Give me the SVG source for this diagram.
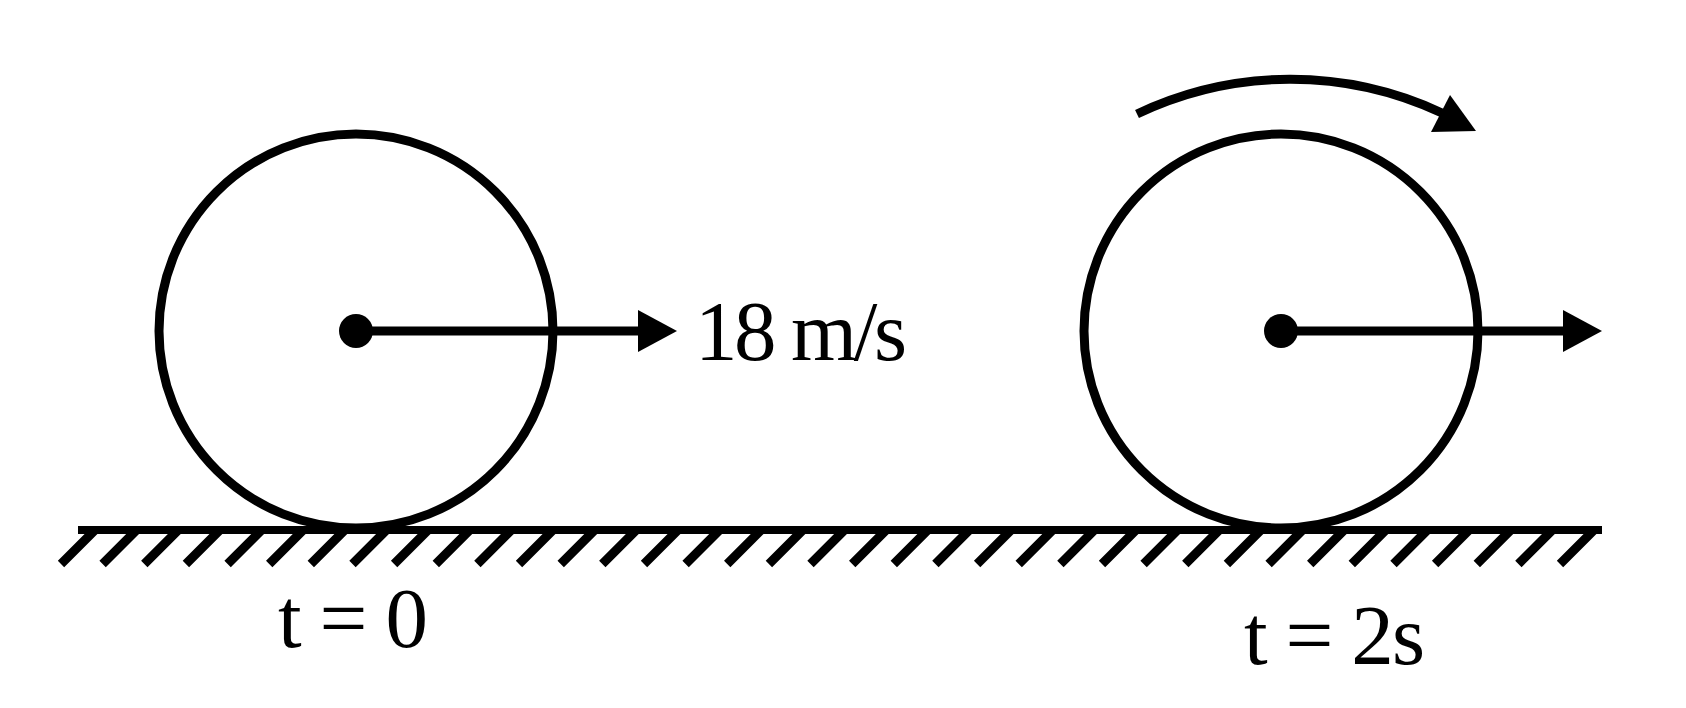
<svg xmlns="http://www.w3.org/2000/svg" width="1686" height="708" viewBox="0 0 1686 708">
<style>
.stk{fill:none;stroke:#000;stroke-width:9}
.fill{fill:#000}
.lbl{font-family:'Liberation Serif','Times New Roman',serif;font-size:85px;fill:#000}
</style>
<rect width="1686" height="708" fill="#fff"/>
<g id="ground">
<line x1="78" y1="530" x2="1602" y2="530" stroke="#000" stroke-width="8"/>
<path stroke="#000" stroke-width="9" fill="none" d="M61,564l34,-34M102.6,564l34,-34M144.3,564l34,-34M185.9,564l34,-34M227.6,564l34,-34M269.2,564l34,-34M310.8,564l34,-34M352.5,564l34,-34M394.1,564l34,-34M435.8,564l34,-34M477.4,564l34,-34M519,564l34,-34M560.7,564l34,-34M602.3,564l34,-34M644,564l34,-34M685.6,564l34,-34M727.2,564l34,-34M768.9,564l34,-34M810.5,564l34,-34M852.2,564l34,-34M893.8,564l34,-34M935.4,564l34,-34M977.1,564l34,-34M1018.7,564l34,-34M1060.4,564l34,-34M1102,564l34,-34M1143.6,564l34,-34M1185.3,564l34,-34M1226.9,564l34,-34M1268.6,564l34,-34M1310.2,564l34,-34M1351.8,564l34,-34M1393.5,564l34,-34M1435.1,564l34,-34M1476.8,564l34,-34M1518.4,564l34,-34M1560,564l34,-34"/>
</g>
<g id="wheel-t0">
<circle class="stk" cx="356" cy="331" r="197"/>
<circle class="fill" cx="356" cy="331" r="17"/>
</g>
<g id="wheel-t2">
<circle class="stk" cx="1281" cy="331" r="197"/>
<circle class="fill" cx="1281" cy="331" r="17"/>
</g>
<g id="connectors">
<line x1="356" y1="331" x2="641" y2="331" stroke="#000" stroke-width="9"/>
<polygon class="fill" points="638,310 677,331 638,352"/>
<line x1="1281" y1="331" x2="1566" y2="331" stroke="#000" stroke-width="9"/>
<polygon class="fill" points="1563,310 1602,331 1563,352"/>
<path class="stk" d="M1137,114 A357,357 0 0,1 1442,113"/>
<polygon class="fill" points="1450,95 1431,132 1476,131"/>
</g>
<g id="labels">
<text class="lbl" x="695" y="360" textLength="212">18 m/s</text>
<text class="lbl" x="278" y="647" textLength="150">t = 0</text>
<text class="lbl" x="1244" y="664" textLength="181">t = 2s</text>
</g>
</svg>
